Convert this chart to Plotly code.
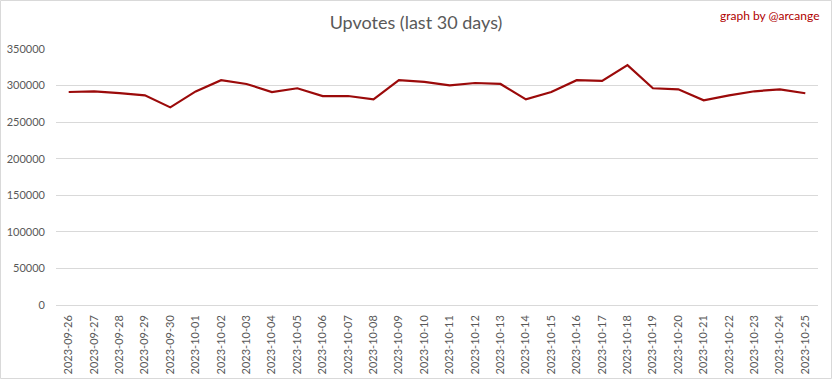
import plotly.graph_objects as go

dates = ["2023-09-26", "2023-09-27", "2023-09-28", "2023-09-29", "2023-09-30",
         "2023-10-01", "2023-10-02", "2023-10-03", "2023-10-04", "2023-10-05",
         "2023-10-06", "2023-10-07", "2023-10-08", "2023-10-09", "2023-10-10",
         "2023-10-11", "2023-10-12", "2023-10-13", "2023-10-14", "2023-10-15",
         "2023-10-16", "2023-10-17", "2023-10-18", "2023-10-19", "2023-10-20",
         "2023-10-21", "2023-10-22", "2023-10-23", "2023-10-24", "2023-10-25"]
upvotes = [291200, 292200, 289800, 286700, 270200,
           292000, 307300, 302200, 291200, 296300,
           285700, 285700, 281200, 307300, 305000,
           300400, 303500, 302200, 281200, 291200,
           307300, 306300, 327900, 296300, 294900,
           279800, 286700, 292200, 294900, 289500]
y_ticks = [0, 50000, 100000, 150000, 200000, 250000, 300000, 350000]

W, H = 832, 379
L, R, T, B = 56, 14, 49, 74
pw, ph = W - L - R, H - T - B

fig = go.Figure(go.Scatter(
    x=dates, y=upvotes, mode="lines",
    line=dict(color="#9b0a0a", width=2.2),
    hoverinfo="x+y",
))

font_family = "Lato, 'Open Sans', sans-serif"
fig.update_layout(
    width=W, height=H,
    margin=dict(l=L, r=R, t=T, b=B, autoexpand=False),
    paper_bgcolor="white", plot_bgcolor="white",
    showlegend=False,
    font=dict(family=font_family, color="#595959", size=11),
    title=dict(text="Upvotes (last 30 days)", x=0.5, xanchor="center",
               y=1 - 23 / H, yanchor="middle",
               font=dict(size=18, color="#595959", family=font_family)),
    xaxis=dict(type="category", range=[-0.5, len(dates) - 0.5], automargin=False,
               tickangle=-90, showgrid=False, showline=False, zeroline=False,
               ticks="", tickfont=dict(size=11, color="#595959"), ticklabelstandoff=7),
    yaxis=dict(range=[0, 350000], tickvals=y_ticks, ticktext=[str(v) for v in y_ticks],
               automargin=False,
               showgrid=True, gridcolor="#d9d9d9", gridwidth=1,
               zeroline=True, zerolinecolor="#d9d9d9", zerolinewidth=1,
               showline=False, ticks="", ticklabelstandoff=10,
               tickfont=dict(size=11, color="#595959")),
    annotations=[dict(text="graph by @arcange", xref="paper", yref="paper",
                      x=(W - 10 - L) / pw, y=(H - 15 - B) / ph, xanchor="right", yanchor="middle",
                      showarrow=False, font=dict(size=12, color="#b00000", family=font_family))],
    shapes=[dict(type="rect", xref="paper", yref="paper",
                 x0=(0.5 - L) / pw, x1=(W - 0.5 - L) / pw,
                 y0=(0.5 - B) / ph, y1=(H - 0.5 - B) / ph,
                 line=dict(color="#d9d9d9", width=1), layer="below")],
)

fig.write_html("out.html")
